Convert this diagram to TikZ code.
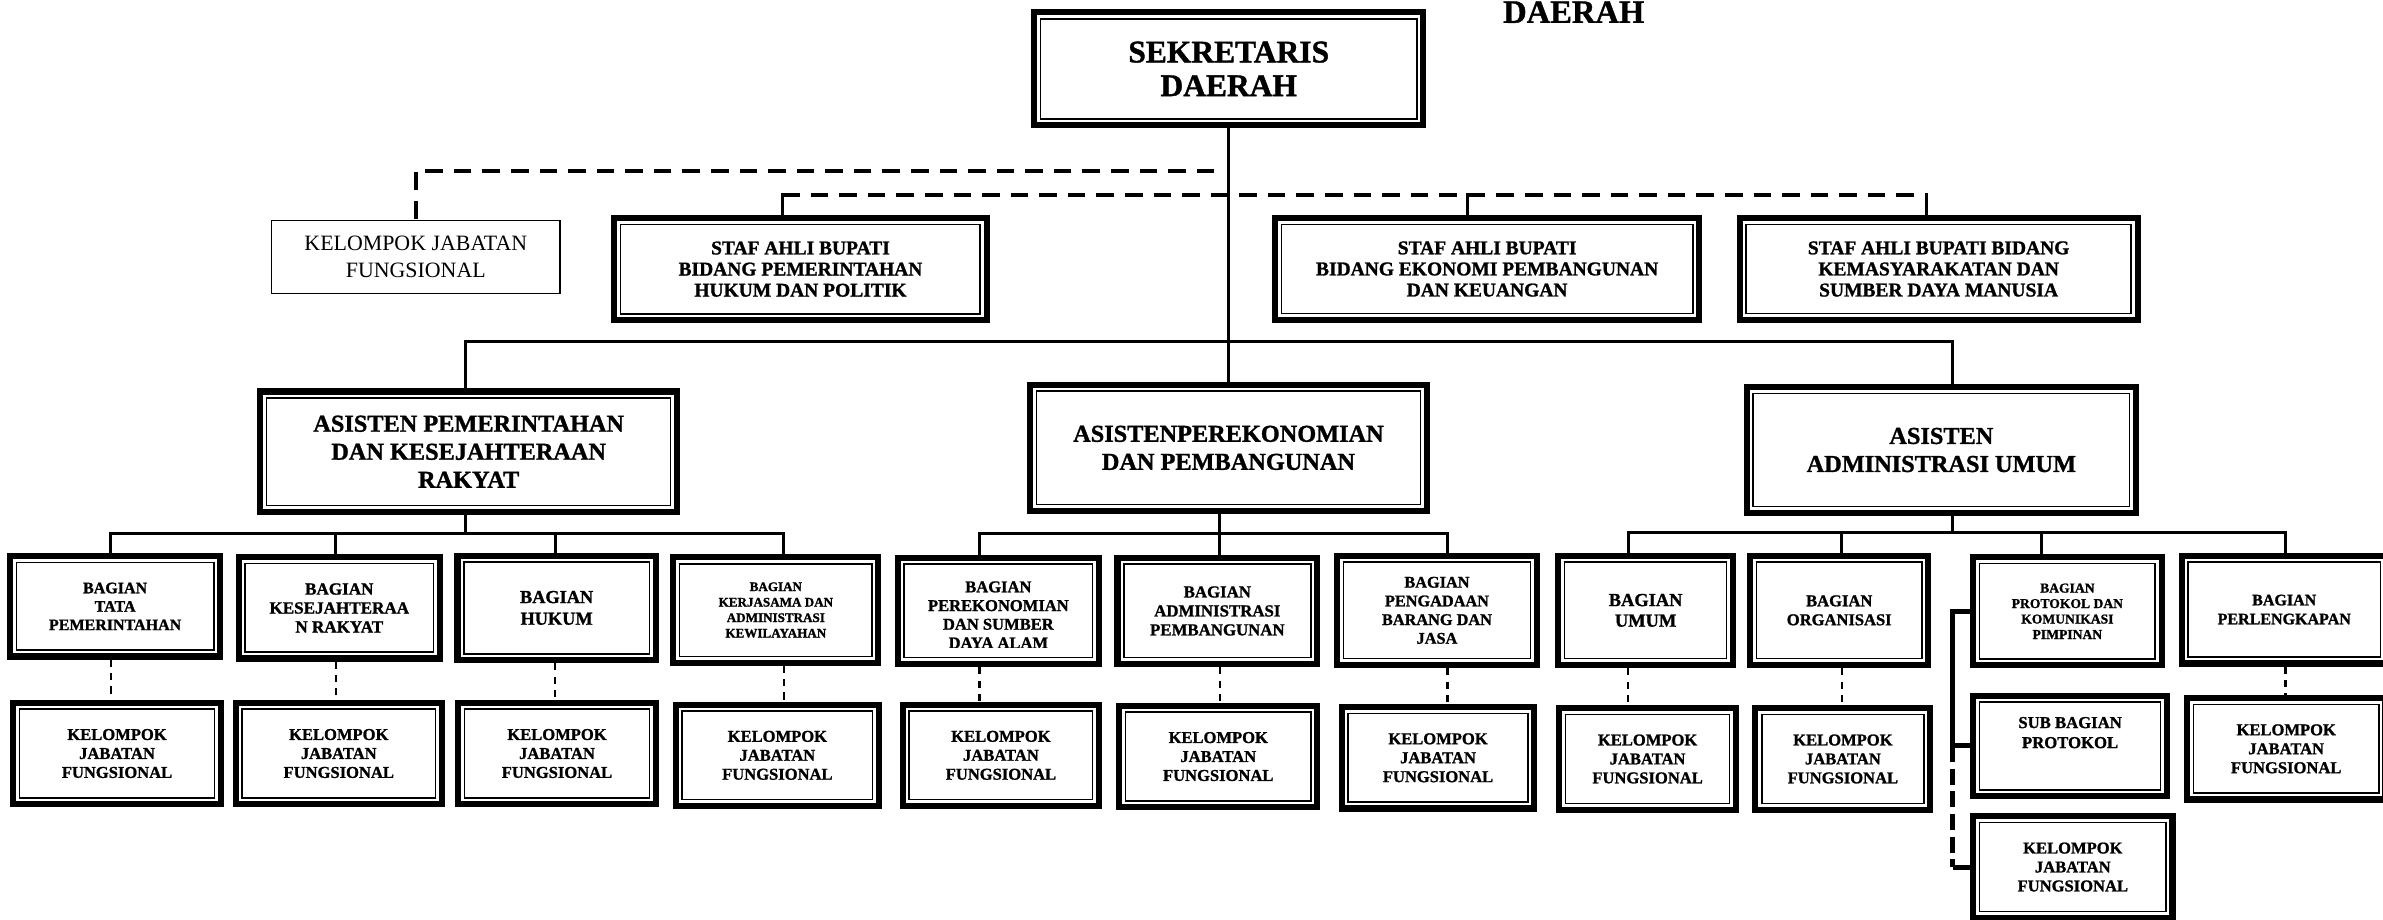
\documentclass[tikz,border=0pt]{standalone}
\usepackage{fontspec}
\setmainfont{Liberation Serif}[BoldFeatures={FakeBold=1.2}]
\usepackage{tikz}

\begin{document}
\begin{tikzpicture}[x=0.02cm,y=-0.02cm,
	unit/.style={draw,line width=2.3pt,fill=white,inner sep=0pt,align=center,
		path picture={\draw[line width=0.55pt]
			([shift={(2.4pt,2.4pt)}]path picture bounding box.south west) rectangle
			([shift={(-2.4pt,-2.4pt)}]path picture bounding box.north east);}},
	wh/.style 2 args={minimum width=#1cm,minimum height=#2cm},
	fs/.style 2 args={font=\bfseries\fontsize{#1}{#2}\selectfont},
	link/.style={line width=1.1pt,line cap=rect},
	topdash/.style={line width=1.5pt,dash pattern=on 6.6pt off 4.1pt},
	fdash/.style={line width=0.8pt,dash pattern=on 2.7pt off 2.3pt},
	protline/.style={line width=1.9pt}]
		\path[use as bounding box,fill=white] (0,0) rectangle (1568,605);

		\node[unit,wh={5.12}{1.486},fs={11.8}{12.6}] (sekda) at (808.5,45.3) {SEKRETARIS\\DAERAH};
		\node[fs={12.2}{14},anchor=base] (ttl) at (1035.5,15) {DAERAH};
		\node[draw,line width=0.5pt,align=center,inner sep=0pt,wh={3.8}{0.956},font=\fontsize{8.2}{9.9}\selectfont] (kjf0) at (273.6,169.1) {KELOMPOK JABATAN\\FUNGSIONAL};

		% staf ahli
		\node[unit,wh={4.9}{1.344},fs={7.3}{7.9}] (sa1) at (526.7,177.1) {STAF AHLI BUPATI\\BIDANG PEMERINTAHAN\\HUKUM DAN POLITIK};
		\node[unit,wh={5.586}{1.346},fs={7.3}{7.9}] (sa2) at (978.5,177) {STAF AHLI BUPATI\\BIDANG EKONOMI PEMBANGUNAN\\DAN KEUANGAN};
		\node[unit,wh={5.238}{1.346},fs={7.3}{7.9}] (sa3) at (1275.6,177) {STAF AHLI BUPATI BIDANG\\KEMASYARAKATAN DAN\\SUMBER DAYA MANUSIA};

		% asisten
		\node[unit,wh={5.486}{1.586},fs={9.1}{10.5}] (as1) at (308.4,297.2) {ASISTEN PEMERINTAHAN\\DAN KESEJAHTERAAN\\RAKYAT};
		\node[unit,wh={5.224}{1.66},fs={9.1}{10.5}] (as2) at (808.3,294.7) {ASISTENPEREKONOMIAN\\DAN PEMBANGUNAN};
		\node[unit,wh={5.124}{1.656},fs={9.1}{10.5}] (as3) at (1277.4,296.1) {ASISTEN\\ADMINISTRASI UMUM};

		% bagian
		\node[unit,wh={2.77}{1.32},fs={6.0}{6.9}] (b1) at (75.75,399) {BAGIAN\\TATA\\PEMERINTAHAN};
		\node[unit,wh={2.65}{1.332},fs={6.4}{7.1}] (b2) at (223.25,400) {BAGIAN\\KESEJAHTERAA\\N RAKYAT};
		\node[unit,wh={2.61}{1.376},fs={6.85}{8.1}] (b3) at (366.25,400) {BAGIAN\\HUKUM};
		\node[unit,wh={2.70}{1.386},fs={4.9}{5.8}] (b4) at (510.5,401.4) {BAGIAN\\KERJASAMA DAN\\ADMINISTRASI\\KEWILAYAHAN};
		\node[unit,wh={2.652}{1.40}] (b5) at (656.9,402) {};
		\begin{scope}
		\clip (b5.north west) rectangle ([yshift=0.26cm]b5.south east);
		\node[fs={6.2}{7.0},align=center] (b5t) at ([yshift=-0.052cm]b5.center) {BAGIAN\\PEREKONOMIAN\\DAN SUMBER\\DAYA ALAM};
		\end{scope}
		\node[unit,wh={2.63}{1.40},fs={6.3}{7.1}] (b6) at (801,402) {BAGIAN\\ADMINISTRASI\\PEMBANGUNAN};
		\node[unit,wh={2.632}{1.442},fs={6.1}{7.0}] (b7) at (945.5,401.6) {BAGIAN\\PENGADAAN\\BARANG DAN\\JASA};
		\node[unit,wh={2.304}{1.442},fs={6.9}{7.7}] (b8) at (1082.8,401.6) {BAGIAN\\UMUM};
		\node[unit,wh={2.346}{1.442},fs={6.2}{7.1}] (b9) at (1210.2,401.6) {BAGIAN\\ORGANISASI};
		\node[unit,wh={2.48}{1.42},fs={5.1}{5.8}] (b10) at (1360.3,402.2) {BAGIAN\\PROTOKOL DAN\\KOMUNIKASI\\PIMPINAN};
		\node[unit,wh={2.70}{1.42},fs={6.0}{7.1}] (b11) at (1503,401.1) {BAGIAN\\PERLENGKAPAN};
		\node[unit,wh={2.552}{1.324},fs={6.25}{7.5}] (sub) at (1362.1,490.8) {SUB BAGIAN\\PROTOKOL\\[2.5pt]~};

		% kelompok jabatan fungsional
		\foreach \kx/\x/\y/\w in {k1/77/495.8/2.73,k2/222.9/495.8/2.714,k3/366.5/495.8/2.60,
			k4/511.5/497/2.676,k5/658.6/497/2.584,k6/801.6/497.8/2.604,k7/946.2/498.6/2.536,
			k8/1084.1/499.4/2.324,k9/1212.6/499.4/2.304,k11/1504.3/492.7/2.612,k12/1363.9/570.5/2.622}
			\node[unit,wh={\w}{1.336},fs={6.2}{7.1}] (\kx) at (\x,\y) {KELOMPOK\\JABATAN\\FUNGSIONAL};

		\coordinate (d1) at (799,112.5);
		\coordinate (ts1) at (514.6,128);
		\coordinate (ts2) at (965.3,128);
		\coordinate (ts3) at (1267.4,128);
		\coordinate (ta1) at (306,224.8);
		\coordinate (ta3) at (1285,224.8);
		\coordinate (bus1) at (0,351);
		\coordinate (bus2) at (0,351.3);
		\coordinate (bus3) at (0,350.2);
		\foreach \tp/\x in {c1/73,c2/221,c3/365.4,c4/515.7,c5/644.5,c6/802.7,c7/952.4,
			c8/1071.4,c9/1211.8,c10/1343.3,c11/1503.8}
			\coordinate (\tp) at (\x,0);

		\draw[topdash] (d1) -- (kjf0.north |- d1) -- (kjf0.north);
		\draw[topdash] (ts1) -- (ts3);
		\foreach \tp/\bx in {ts1/sa1,ts2/sa2,ts3/sa3}
			\draw[link] (\tp) -- (\tp |- \bx.north);

		\draw[link] (sekda.south) -- (sekda.south |- as2.north);
		\draw[link] (ta1 |- as1.north) -- (ta1) -- (ta3) -- (ta3 |- as3.north);

		\draw[link] (ta1 |- as1.south) -- (ta1 |- bus1);
		\draw[link] (c1 |- bus1) -- (c4 |- bus1);
		\foreach \tp/\bx in {c1/b1,c2/b2,c3/b3,c4/b4}
			\draw[link] (\tp |- bus1) -- (\tp |- \bx.north);

		\draw[link] (c6 |- as2.south) -- (c6 |- bus2);
		\draw[link] (c5 |- bus2) -- (c7 |- bus2);
		\foreach \tp/\bx in {c5/b5,c6/b6,c7/b7}
			\draw[link] (\tp |- bus2) -- (\tp |- \bx.north);

		\draw[link] (ta3 |- as3.south) -- (ta3 |- bus3);
		\draw[link] (c8 |- bus3) -- (c11 |- bus3);
		\foreach \tp/\bx in {c8/b8,c9/b9,c10/b10,c11/b11}
			\draw[link] (\tp |- bus3) -- (\tp |- \bx.north);

		\foreach \tp/\bx/\kx in {c1/b1/k1,c2/b2/k2,c3/b3/k3,c4/b4/k4,c5/b5/k5,
			c6/b6/k6,c7/b7/k7,c8/b8/k8,c9/b9/k9,c11/b11/k11}
			\draw[fdash] (\tp |- \bx.south) -- (\tp |- \kx.north);

		% protokol
		\draw[protline] (b10.west) -- (b10.west -| ta3) -- (sub.west -| ta3) -- (sub.west);
		\draw[protline,dash pattern=on 6pt off 2.5pt] (sub.west -| ta3) -- (k12.west -| ta3);
		\draw[protline] (k12.west -| ta3) -- (k12.west);
\end{tikzpicture}
\end{document}
